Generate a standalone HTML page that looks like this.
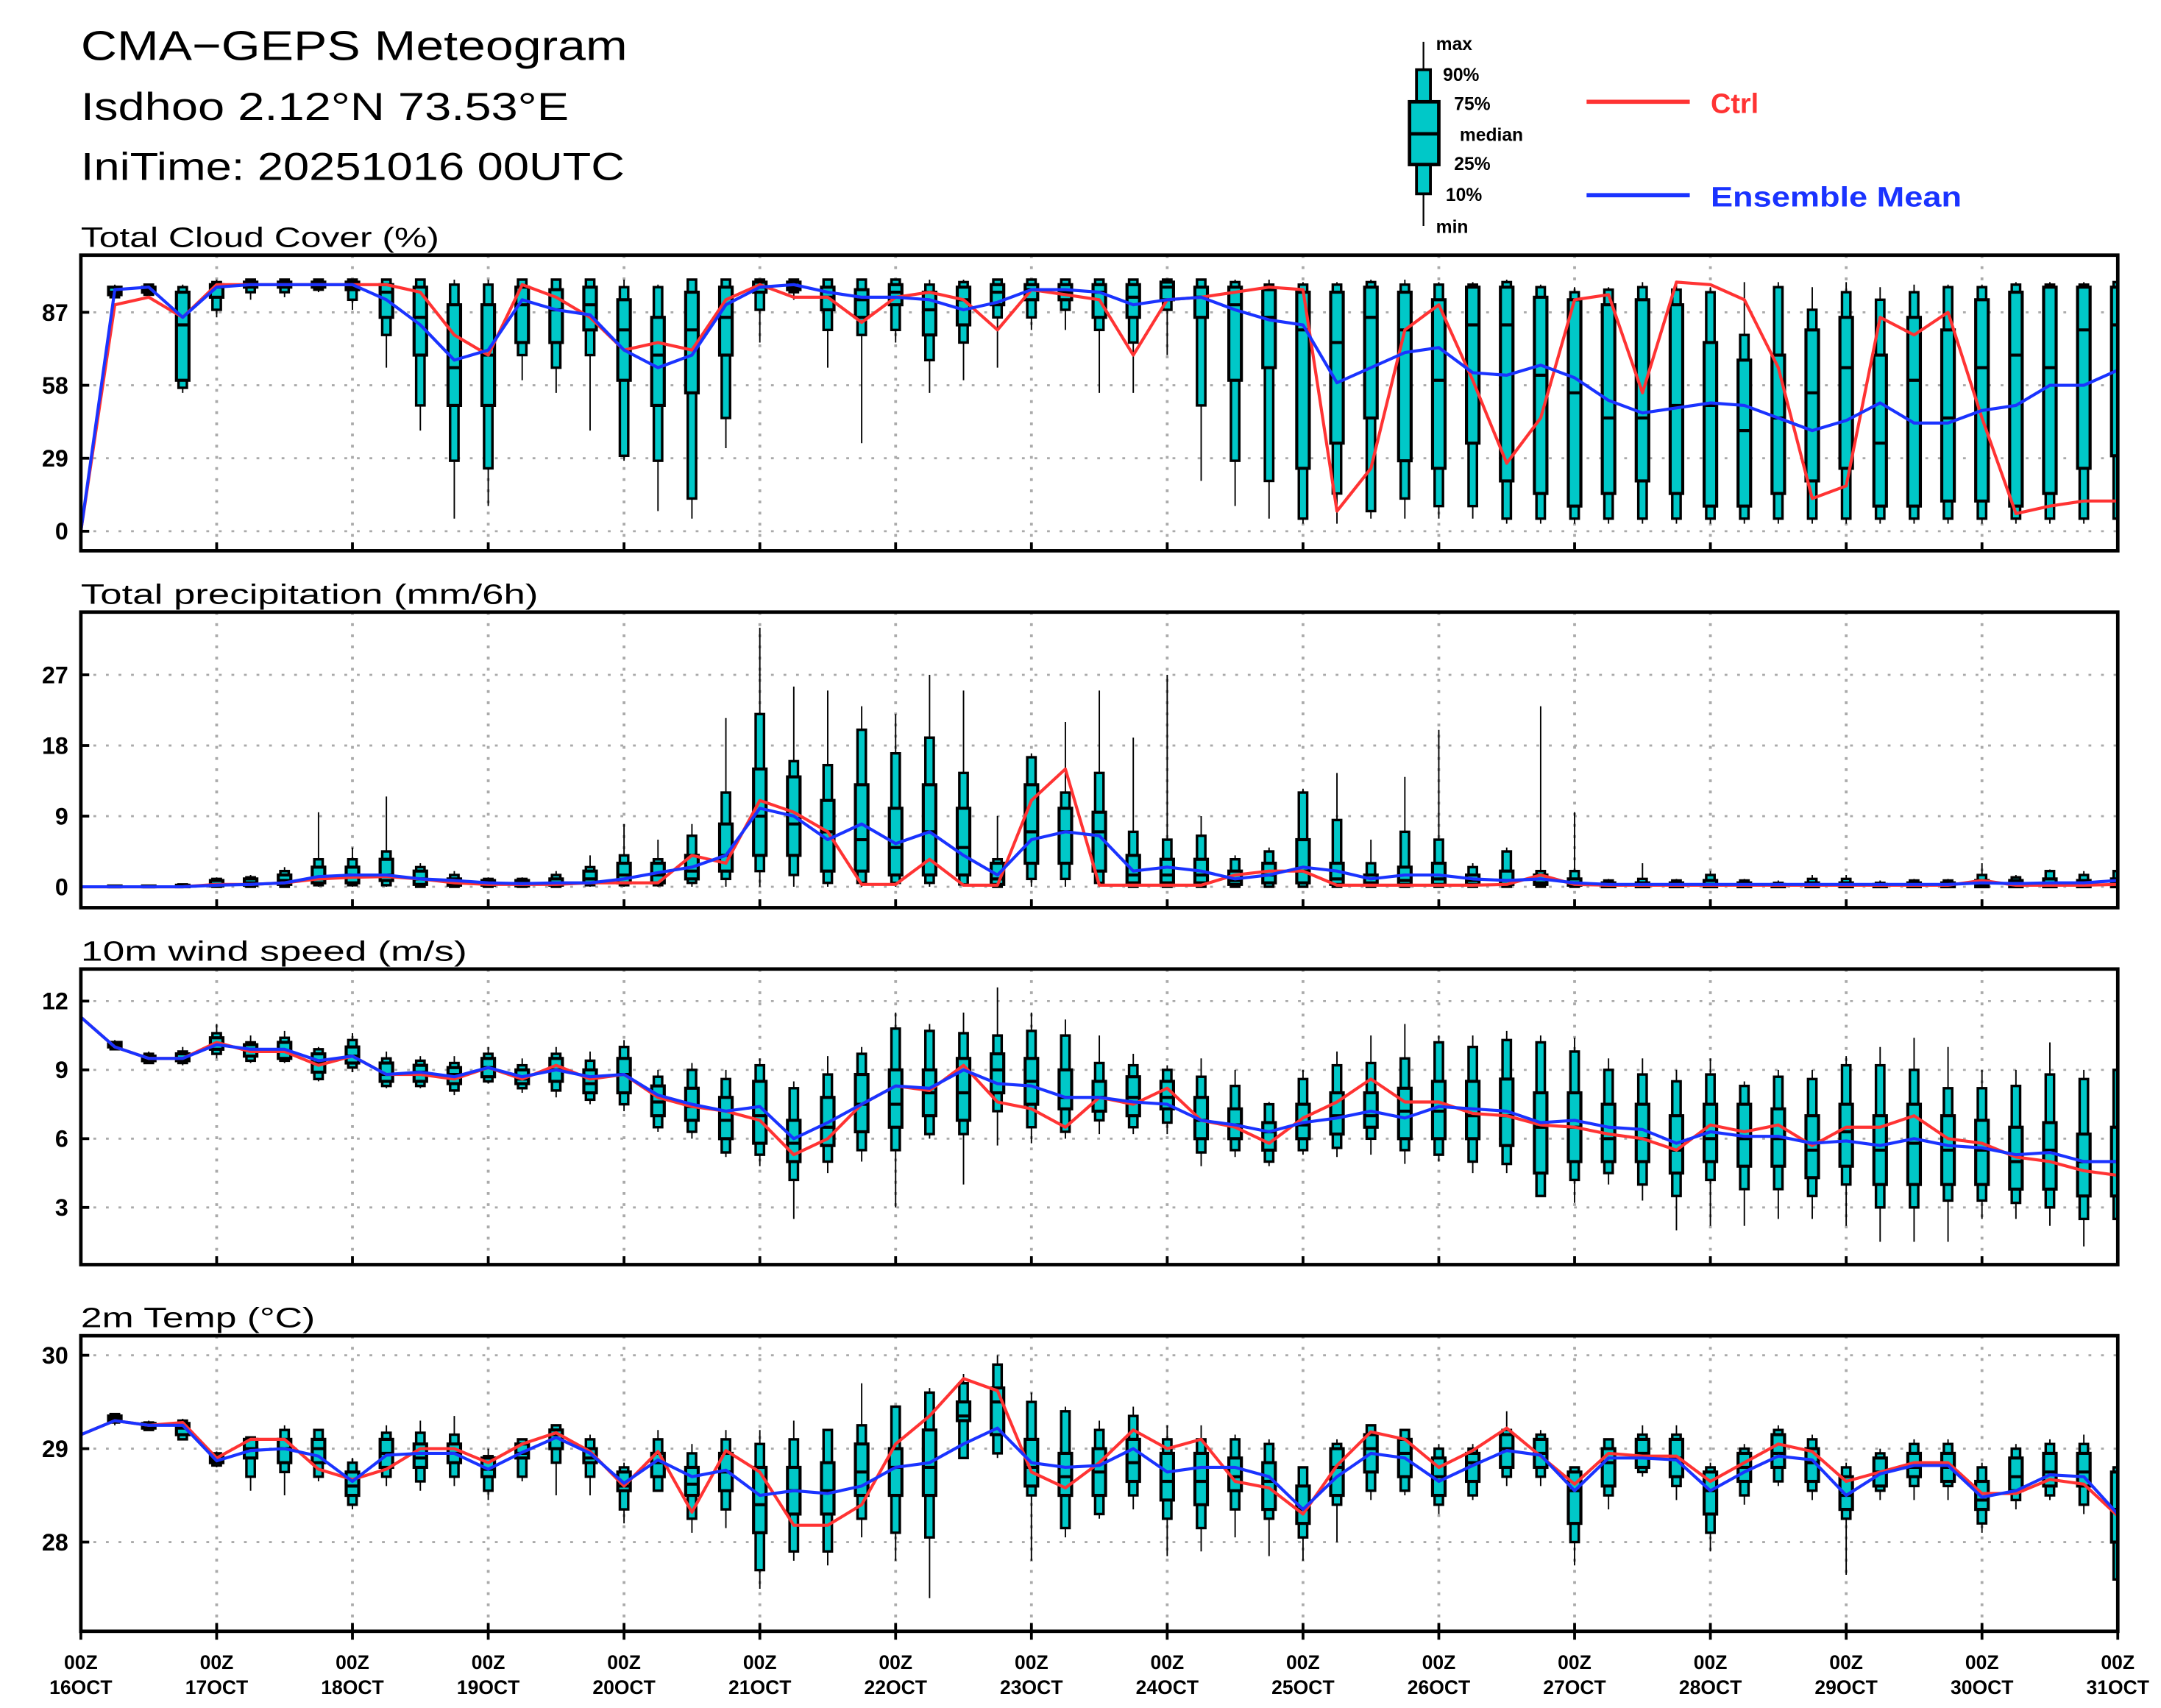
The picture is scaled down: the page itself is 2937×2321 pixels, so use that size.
<!DOCTYPE html>
<html><head><meta charset="utf-8"><style>
html,body{margin:0;padding:0;background:#fff;}
svg{display:block;}
text{font-family:"Liberation Sans",sans-serif;}
</style></head><body>
<svg id="chart" xmlns="http://www.w3.org/2000/svg" width="2937" height="2321" viewBox="0 0 1550 1225" preserveAspectRatio="none">
<text x="58" y="43" font-size="30" textLength="392" lengthAdjust="spacingAndGlyphs">CMA−GEPS Meteogram</text>
<text x="58" y="86" font-size="28" textLength="350" lengthAdjust="spacingAndGlyphs">Isdhoo 2.12°N 73.53°E</text>
<text x="58" y="129" font-size="28" textLength="390" lengthAdjust="spacingAndGlyphs">IniTime: 20251016 00UTC</text>
<g>
<line x1="1021" y1="30" x2="1021" y2="162" stroke="#000" stroke-width="1.2"/>
<rect x="1016" y="50" width="10" height="89" fill="#00c8c8" stroke="#000" stroke-width="2"/>
<rect x="1011" y="73" width="21" height="45" fill="#00c8c8" stroke="#000" stroke-width="2.5"/>
<line x1="1011" y1="96" x2="1032" y2="96" stroke="#000" stroke-width="2.5"/>
<text x="1030" y="36" font-size="13" font-weight="bold">max</text>
<text x="1035" y="58" font-size="13" font-weight="bold">90%</text>
<text x="1043" y="79" font-size="13" font-weight="bold">75%</text>
<text x="1047" y="101" font-size="13" font-weight="bold">median</text>
<text x="1043" y="122" font-size="13" font-weight="bold">25%</text>
<text x="1037" y="144" font-size="13" font-weight="bold">10%</text>
<text x="1030" y="167" font-size="13" font-weight="bold">min</text>
</g>
<g>
<line x1="1138" y1="73" x2="1212" y2="73" stroke="#ff3333" stroke-width="3"/>
<text x="1227" y="81" font-size="20" font-weight="bold" fill="#ff3333">Ctrl</text>
</g>
<g>
<line x1="1138" y1="140" x2="1212" y2="140" stroke="#1a33ff" stroke-width="3"/>
<text x="1227" y="148" font-size="20" font-weight="bold" fill="#1a33ff" textLength="180" lengthAdjust="spacingAndGlyphs">Ensemble Mean</text>
</g>
<g id="panels"></g>
</svg>
<script>
const NS="http://www.w3.org/2000/svg";
const dayLabels=["16OCT","17OCT","18OCT","19OCT","20OCT","21OCT","22OCT","23OCT","24OCT","25OCT","26OCT","27OCT","28OCT","29OCT","30OCT","31OCT"];

const cloudCtrl=[0,90,93,85,98,98,98,98,98,98,95,78,70,98,93,85,72,75,72,92,98,93,93,83,93,95,92,80,96,94,92,70,92,93,95,97,96,8,25,80,90,60,27,45,92,94,55,99,98,92,65,13,18,85,78,87,45,7,10,12,12];
const cloudMean=[0,96,97,85,97,98,98,98,98,92,82,68,72,92,88,86,72,65,70,90,97,98,95,93,93,92,88,91,96,96,95,90,92,93,88,84,82,59,65,71,73,63,62,66,61,52,47,49,51,50,45,40,44,51,43,43,48,50,58,58,64];
const cloudBox=[null,[93,93,94,95,97,97,98],[94,94,95,96,97,98,98],[55,57,60,82,95,97,98],[85,88,93,97,98,99,100],[92,95,97,98,99,100,100],[93,95,97,98,99,100,100],[95,96,97,98,99,100,100],[88,92,96,97,99,100,100],[65,78,85,95,98,100,100],[40,50,70,85,97,100,100],[5,28,50,65,90,98,100],[10,25,50,70,90,98,100],[60,70,75,90,97,100,100],[55,65,75,88,96,100,100],[40,70,80,90,97,100,100],[28,30,60,80,92,97,100],[8,28,50,70,85,97,98],[5,13,55,80,95,100,100],[33,45,70,85,97,100,100],[75,88,95,97,99,100,100],[92,95,96,97,99,100,100],[65,80,88,93,97,100,100],[35,78,85,92,96,100,100],[75,80,90,95,98,100,100],[55,68,78,88,95,98,100],[60,75,82,92,97,99,100],[65,85,90,95,98,100,100],[80,85,92,96,98,100,100],[80,88,92,95,98,100,100],[55,80,85,95,98,100,100],[55,75,85,93,98,100,100],[70,88,92,97,99,100,100],[20,50,85,93,97,100,100],[10,28,60,90,97,99,100],[5,20,65,85,96,98,100],[3,5,25,80,95,98,99],[3,15,35,75,95,98,99],[5,8,45,85,97,99,100],[5,13,28,80,95,98,100],[5,10,25,60,92,98,99],[5,10,35,82,97,98,99],[3,5,20,82,97,99,100],[3,5,15,62,93,97,98],[3,5,10,55,92,95,97],[3,5,15,45,90,96,97],[3,5,20,45,92,97,99],[3,5,15,50,90,96,98],[3,5,10,50,75,95,97],[3,5,10,40,68,78,99],[3,5,15,45,70,97,99],[3,5,20,55,80,88,97],[3,5,25,65,85,95,99],[3,5,10,35,70,92,97],[3,5,10,60,85,95,98],[3,5,12,45,80,97,98],[3,5,12,65,92,97,98],[3,5,10,70,95,98,99],[3,5,15,65,97,98,99],[3,5,25,80,97,98,99],[3,5,30,82,97,99,100]];
const cloudTicks=[0,29,58,87];

const precCtrl=[0,0,0,0,0.3,0.3,0.5,1,1.2,1.3,1,0.5,0.3,0.3,0.3,0.5,0.5,0.5,4,3,11,9.5,7,0.3,0.3,3.5,0.2,0.2,11,15,0.2,0.2,0.2,0.2,1.5,2,2,0.2,0.2,0.2,0.2,0.2,0.3,1.5,0.3,0.2,0.2,0.2,0.2,0.2,0.2,0.2,0.2,0.2,0.2,0.2,0.8,0.2,0.2,0.2,0.3];
const precMean=[0,0,0,0,0.2,0.3,0.5,1.3,1.5,1.5,1,0.8,0.5,0.4,0.5,0.5,1,1.8,2.5,4,10,9,6,8,5.5,7,4,1.5,6,7,6.5,2,2.5,2,1,1.5,2.5,2,1,1.5,1.5,1,0.8,1,0.5,0.3,0.3,0.3,0.3,0.3,0.3,0.3,0.3,0.3,0.3,0.3,0.5,0.4,0.5,0.5,0.8];
const precBox=[null,[0,0,0,0,0.1,0.1,0.1],[0,0,0,0,0.1,0.1,0.1],[0,0,0,0.1,0.2,0.3,0.3],[0,0,0.1,0.3,0.8,1,1.2],[0,0,0.2,0.5,1,1.2,1.5],[0,0,0.3,0.8,1.5,2,2.5],[0,0.2,0.5,1,2.5,3.5,9.5],[0,0.2,0.5,1.5,2.5,3.5,5],[0,0.2,0.8,1.5,3.5,4.5,11.5],[0,0,0.3,1,2,2.5,3],[0,0,0.2,0.5,1,1.5,2],[0,0,0.2,0.3,0.8,1,1.2],[0,0,0.1,0.3,0.8,1,1.2],[0,0,0.2,0.5,1,1.5,2],[0,0.2,0.5,1,2,2.5,4],[0,0.2,0.5,1.5,3,4,8],[0,0.2,0.5,1.5,3,3.5,6],[0,0.5,1,2,4,6.5,8],[0,1,2,4,8,12,21.5],[0,2,4,9,15,22,33],[0,1.5,4,8,14,16,25.5],[0,0.5,2,7,11,15.5,25],[0,0.5,2,6,13,20,23],[0,0.5,1.5,5,10,17,22],[0,0.5,1.5,7,13,19,27],[0,0.3,1.5,5,10,14.5,25],[0,0,0.3,1,3,3.5,9],[0,1,3,7,13,16.5,17],[0,1,3,7,10,12,21],[0,0.5,2,7,9.5,14.5,25],[0,0,0.5,1.5,4,7,19],[0,0,0.5,1.5,3.5,6,27],[0,0,0.5,1.5,3.5,6.5,9],[0,0,0.3,0.8,2,3.5,4],[0,0,0.5,1.5,3,4.5,5],[0,0,0.5,2,6,12,12.5],[0,0,0.3,1,3,8.5,14.5],[0,0,0.2,0.5,1.5,3,6],[0,0,0.3,0.8,2.5,7,14],[0,0,0.3,1,3,6,20],[0,0,0.3,0.8,1.5,2.5,3],[0,0,0.3,0.8,2,4.5,5],[0,0,0.3,0.5,1.5,2,23],[0,0,0.2,0.5,1,2,9.5],[0,0,0,0.2,0.5,0.8,1],[0,0,0,0.2,0.5,1,3],[0,0,0,0.2,0.5,0.8,1],[0,0,0,0.3,0.8,1.5,2],[0,0,0,0.2,0.5,0.8,1],[0,0,0,0.2,0.3,0.5,0.8],[0,0,0,0.2,0.5,1,1.5],[0,0,0,0.2,0.5,1,1.5],[0,0,0,0.2,0.3,0.5,0.8],[0,0,0,0.2,0.5,0.8,1],[0,0,0,0.2,0.5,0.8,1],[0,0,0,0.3,0.8,1.5,3],[0,0,0,0.3,0.8,1.2,1.5],[0,0,0,0.3,1,2,2.2],[0,0,0,0.3,0.8,1.5,2],[0,0,0,0.5,1,2,2.5]];
const precTicks=[0,9,18,27];

const windCtrl=[11.3,10,9.5,9.5,10.2,9.8,9.8,9.2,9.6,8.8,8.8,8.6,9.1,8.6,9.2,8.6,8.8,7.8,7.4,7.2,6.8,5.3,6,7.5,8.3,8.1,9.2,7.6,7.3,6.5,7.8,7.5,8.2,6.8,6.5,5.8,6.9,7.6,8.6,7.6,7.6,7.1,7,6.6,6.5,6.2,6,5.5,6.6,6.3,6.6,5.7,6.5,6.5,7,6,5.8,5.2,5,4.6,4.4];
const windMean=[11.3,10,9.5,9.5,10.1,9.9,9.9,9.4,9.6,8.8,8.9,8.7,9.1,8.7,9,8.7,8.8,7.9,7.5,7.2,7.4,6,6.7,7.5,8.3,8.2,9,8.4,8.3,7.8,7.8,7.6,7.5,6.8,6.6,6.3,6.7,6.9,7.2,6.9,7.4,7.3,7.2,6.7,6.8,6.5,6.4,5.8,6.3,6.1,6.1,5.8,5.9,5.7,6,5.7,5.6,5.3,5.4,5,5];
const windBox=[null,[9.9,9.9,10,10.1,10.2,10.2,10.3],[9.3,9.3,9.4,9.5,9.6,9.7,9.8],[9.2,9.3,9.4,9.5,9.7,9.8,10],[9.5,9.7,9.9,10.1,10.4,10.6,11],[9.3,9.4,9.6,9.9,10.1,10.2,10.5],[9.3,9.4,9.5,9.8,10.2,10.4,10.7],[8.5,8.6,8.9,9.3,9.7,9.9,10],[8.9,9.1,9.3,9.6,10,10.3,10.6],[8.2,8.3,8.5,8.8,9.3,9.5,9.8],[8.2,8.3,8.5,8.9,9.2,9.4,9.6],[7.9,8.1,8.4,8.8,9.1,9.3,9.6],[8.4,8.5,8.7,9.1,9.5,9.7,10],[8,8.2,8.4,8.6,9,9.2,9.5],[7.8,8.1,8.5,9,9.5,9.7,10],[7.5,7.7,8,8.4,9,9.4,9.8],[7.2,7.5,8,8.8,9.5,10,10.3],[6.3,6.5,7,7.6,8.3,8.7,9],[6,6.3,6.8,7.4,8.2,9,9.3],[5.2,5.4,6,6.8,7.8,8.6,9],[4.8,5.3,5.8,7,8.5,9.2,9.5],[2.5,4.2,5,5.8,6.8,8.2,8.5],[4.5,5,5.7,6.5,7.8,8.8,9.6],[5,5.5,6.3,7.5,8.8,9.7,10],[3,5.5,6.5,7.5,9,10.8,11.5],[6,6.2,7,8,9,10.7,11],[4,6.2,6.8,8,9.5,10.6,11.5],[5.7,7.2,8,9,9.7,10.5,12.6],[5.8,6.5,7.5,8.5,9.5,10.7,11.5],[6,6.3,7.3,7.8,9,10.5,11.2],[6.2,6.8,7.2,7.8,8.5,9.3,10.5],[6.2,6.5,7,7.8,8.7,9.2,9.7],[6.2,6.7,7.3,7.8,8.5,9,9.2],[4.8,5.4,6,6.8,7.8,8.7,9.5],[5.2,5.5,6,6.6,7.3,8.3,9],[4.8,5,5.5,6.3,6.7,7.5,7.6],[5.3,5.5,6,6.6,7.5,8.6,9],[5.2,5.6,6.2,7,8,9.2,9.8],[5.3,6,6.5,7,8,9.3,10.5],[4.9,5.5,6,7.2,8.2,9.5,11],[5,5.3,6,7.2,8.5,10.2,10.5],[4.5,5,6,7,8.5,10,10.5],[4.5,4.9,5.7,7,8.6,10.3,10.7],[3.5,3.5,4.5,6.5,8,10.2,10.5],[3.2,4.2,5,6.5,8,9.8,10.4],[4,4.5,5,6,7.5,9,9.5],[3.3,4,5,6,7.5,8.8,9.5],[2,3.5,4.5,5.5,7,8.5,9],[2.2,4.2,5,6,7.5,8.8,9.5],[2.2,3.8,4.8,6,7.5,8.3,8.5],[2.5,3.8,4.8,6,7.3,8.7,9],[2.5,3.5,4.3,5.5,7,8.6,9],[2.2,4,4.8,6.3,7.5,9.2,9.6],[1.5,3,4,5.5,7,9.2,10],[1.5,3,4,5.8,7.5,9,10.4],[1.5,3.3,4,5.5,7,8.2,10],[2.5,3.3,4,5.5,6.8,8.2,9],[2.5,3.2,3.8,5,6.5,8.3,9],[2.2,3,3.8,5.5,6.7,8.8,10.2],[1.3,2.5,3.5,5,6.2,8.6,9],[2,2.5,3.5,5,6.5,9,9.2]];
const windTicks=[3,6,9,12];

const tempCtrl=[29.15,29.3,29.25,29.28,28.9,29.1,29.1,28.78,28.67,28.78,29.0,29.0,28.85,29.05,29.17,28.97,28.6,28.97,28.32,28.98,28.75,28.18,28.18,28.4,29.05,29.35,29.75,29.62,28.75,28.58,28.85,29.2,29.0,29.1,28.65,28.58,28.3,28.82,29.18,29.1,28.8,28.98,29.22,28.92,28.62,28.95,28.92,28.92,28.65,28.85,29.05,28.97,28.65,28.75,28.85,28.85,28.52,28.52,28.67,28.62,28.28];
const tempMean=[29.15,29.3,29.25,29.25,28.87,28.98,29.0,28.92,28.65,28.93,28.95,28.95,28.78,28.96,29.12,28.95,28.63,28.88,28.7,28.77,28.5,28.55,28.52,28.6,28.8,28.85,29.05,29.22,28.85,28.8,28.82,29.0,28.75,28.8,28.8,28.7,28.35,28.7,28.95,28.9,28.65,28.82,28.98,28.93,28.55,28.9,28.9,28.88,28.55,28.75,28.92,28.88,28.5,28.73,28.82,28.82,28.48,28.55,28.72,28.7,28.3];
const tempBox=[null,[29.25,29.28,29.3,29.32,29.35,29.37,29.37],[29.2,29.2,29.22,29.25,29.27,29.28,29.3],[29.1,29.1,29.15,29.22,29.27,29.3,29.32],[28.8,28.82,28.85,28.88,28.92,28.95,28.97],[28.55,28.7,28.9,29.0,29.1,29.12,29.13],[28.5,28.75,28.85,29.0,29.1,29.2,29.25],[28.65,28.7,28.85,29.0,29.1,29.2,29.2],[28.35,28.4,28.5,28.6,28.75,28.85,28.9],[28.6,28.7,28.8,28.95,29.1,29.17,29.25],[28.55,28.65,28.8,28.9,29.05,29.17,29.3],[28.6,28.7,28.85,28.95,29.05,29.15,29.35],[28.45,28.55,28.7,28.78,28.9,28.92,29.0],[28.65,28.7,28.9,28.95,29.05,29.1,29.1],[28.5,28.85,29.0,29.15,29.2,29.25,29.25],[28.5,28.7,28.85,28.9,29.0,29.1,29.15],[28.2,28.35,28.55,28.6,28.75,28.8,28.85],[28.55,28.55,28.7,28.85,28.95,29.1,29.2],[28.1,28.25,28.5,28.62,28.8,28.95,29.05],[28.15,28.35,28.55,28.75,28.95,29.1,29.2],[27.5,27.7,28.1,28.4,28.8,29.05,29.2],[27.8,27.9,28.3,28.55,28.8,29.1,29.3],[27.75,27.9,28.3,28.55,28.85,29.2,29.2],[28.05,28.25,28.5,28.75,29.05,29.25,29.7],[27.8,28.1,28.5,28.8,29.0,29.45,29.45],[27.4,28.05,28.5,28.8,29.2,29.6,29.65],[28.9,28.9,29.3,29.35,29.5,29.7,29.8],[28.9,28.95,29.15,29.5,29.65,29.9,30.0],[27.8,28.5,28.6,28.8,29.1,29.5,29.6],[28.05,28.15,28.5,28.7,28.95,29.4,29.45],[28.25,28.3,28.5,28.75,29.0,29.2,29.3],[28.35,28.5,28.65,28.85,29.1,29.35,29.45],[27.85,28.25,28.45,28.65,28.95,29.1,29.25],[27.9,28.15,28.4,28.65,28.95,29.1,29.25],[28.05,28.35,28.55,28.7,28.9,29.1,29.15],[27.85,28.25,28.35,28.65,28.85,29.05,29.1],[27.8,28.05,28.2,28.35,28.6,28.8,28.8],[28.0,28.4,28.5,28.8,29.0,29.05,29.1],[28.45,28.55,28.75,29.0,29.15,29.25,29.25],[28.5,28.55,28.7,28.95,29.1,29.2,29.2],[28.3,28.4,28.5,28.7,28.9,29.0,29.05],[28.45,28.5,28.65,28.85,28.95,29.0,29.05],[28.6,28.7,28.8,29.0,29.15,29.2,29.4],[28.6,28.7,28.8,28.95,29.1,29.15,29.2],[27.75,28.0,28.2,28.55,28.75,28.8,28.8],[28.35,28.5,28.6,28.85,29.0,29.1,29.1],[28.7,28.75,28.8,28.95,29.1,29.15,29.25],[28.45,28.6,28.7,28.9,29.1,29.15,29.25],[27.9,28.1,28.3,28.55,28.75,28.8,28.85],[28.4,28.5,28.65,28.8,28.95,29.0,29.05],[28.6,28.65,28.8,28.95,29.15,29.2,29.25],[28.45,28.55,28.65,28.85,29.0,29.1,29.15],[27.65,28.25,28.35,28.5,28.7,28.8,28.85],[28.45,28.55,28.6,28.75,28.9,28.95,29.0],[28.45,28.6,28.7,28.8,28.95,29.05,29.1],[28.45,28.6,28.65,28.8,28.95,29.05,29.1],[28.1,28.2,28.35,28.45,28.65,28.8,28.85],[28.35,28.45,28.55,28.7,28.9,29.0,29.05],[28.45,28.5,28.6,28.75,28.95,29.05,29.1],[28.3,28.4,28.6,28.75,28.95,29.05,29.15],[27.6,27.6,28.0,28.35,28.75,28.8,28.8]];
const tempTicks=[28,29,30];

const X0=58,X1=1519,NSTEP=60;
function xAt(i){return X0+(X1-X0)*i/NSTEP;}
function mk(tag,attrs,parent){const e=document.createElementNS(NS,tag);for(const k in attrs)e.setAttribute(k,attrs[k]);parent.appendChild(e);return e;}

const panels=[
 {name:"cloud-cover",title:"Total Cloud Cover (%)",tw:257,top:183,bot:395,ctrl:cloudCtrl,mean:cloudMean,box:cloudBox,ticks:cloudTicks,v0:0,y0:381,v1:87,y1:224},
 {name:"precipitation",title:"Total precipitation (mm/6h)",tw:328,top:439,bot:651,ctrl:precCtrl,mean:precMean,box:precBox,ticks:precTicks,v0:0,y0:636,v1:27,y1:484},
 {name:"wind-speed",title:"10m wind speed (m/s)",tw:277,top:695,bot:907,ctrl:windCtrl,mean:windMean,box:windBox,ticks:windTicks,v0:3,y0:866,v1:12,y1:718},
 {name:"temperature",title:"2m Temp (°C)",tw:168,top:958,bot:1170,ctrl:tempCtrl,mean:tempMean,box:tempBox,ticks:tempTicks,v0:28,y0:1106,v1:30,y1:972}
];
const root=document.getElementById('panels');
panels.forEach(p=>{
 const g=mk('g',{},root);
 
 
 const yAt=v=>p.y0+(v-p.v0)*(p.y1-p.y0)/(p.v1-p.v0);
 const t=mk('text',{x:58,y:p.top-6,'font-size':20,textLength:p.tw,lengthAdjust:'spacingAndGlyphs'},g);
 t.textContent=p.title;
 
 
 const clipId='clip-'+p.name;
 const cp=mk('clipPath',{id:clipId},g);mk('rect',{x:X0,y:p.top,width:X1-X0,height:p.bot-p.top},cp);
 for(let d=1;d<15;d++){const gl=mk('line',{x1:xAt(d*4),x2:xAt(d*4),y1:p.top,y2:p.bot,stroke:'#aaa','stroke-width':2,'stroke-dasharray':'2 6'},g);
  }
 p.ticks.forEach(v=>{const y=yAt(v);
  mk('line',{x1:X0,x2:X1,y1:y,y2:y,stroke:'#aaa','stroke-width':1.5,'stroke-dasharray':'2 7'},g);
  mk('line',{x1:X0,x2:X0+6,y1:y,y2:y,stroke:'#000','stroke-width':2},g);
  const tl=mk('text',{x:X0-9,y:y+6,'font-size':17,'font-weight':'bold','text-anchor':'end'},g);
  tl.textContent=String(v);
  
  
 });
 const pg=mk('g',{'clip-path':'url(#'+clipId+')'},g);
 p.box.forEach((b,i)=>{ if(!b) return; const x=xAt(i);
  const bg=mk('g',{},pg);
  
  
  mk('line',{x1:x,x2:x,y1:yAt(b[0]),y2:yAt(b[6]),stroke:'#000','stroke-width':1},bg);
  const y90=yAt(b[5]),y10=yAt(b[1]);
  mk('rect',{x:x-3,y:y90,width:6,height:Math.max(0.5,y10-y90),fill:'#00c8c8',stroke:'#000','stroke-width':1.8},bg);
  const y75=yAt(b[4]),y25=yAt(b[2]);
  mk('rect',{x:x-4.5,y:y75,width:9,height:Math.max(0.5,y25-y75),fill:'#00c8c8',stroke:'#000','stroke-width':2.2},bg);
  mk('line',{x1:x-4.5,x2:x+4.5,y1:yAt(b[3]),y2:yAt(b[3]),stroke:'#000','stroke-width':2.2},bg);
 });
 const line=(arr,col,nm)=>{const l=mk('polyline',{points:arr.map((v,i)=>xAt(i)+','+yAt(v)).join(' '),fill:'none',stroke:col,'stroke-width':2.2,'stroke-linejoin':'round'},pg);
  };
 line(p.ctrl,'#ff3333',p.name+'-ctrl-line');
 line(p.mean,'#1a33ff',p.name+'-mean-line');
 const fr=mk('rect',{x:X0,y:p.top,width:X1-X0,height:p.bot-p.top,fill:'none',stroke:'#000','stroke-width':2.5},g);
 
 
 for(let d=0;d<=15;d++){mk('line',{x1:xAt(d*4),x2:xAt(d*4),y1:p.bot-6,y2:p.bot+(p.name==='temperature'?6:0),stroke:'#000','stroke-width':2},g);}
});
for(let d=0;d<=15;d++){const x=xAt(d*4);
 const a=mk('text',{x:x,y:1197,'font-size':14,'font-weight':'bold','text-anchor':'middle'},root);a.textContent='00Z';
 
 const b=mk('text',{x:x,y:1215,'font-size':14,'font-weight':'bold','text-anchor':'middle'},root);b.textContent=dayLabels[d];
 
}
</script>
</body></html>
